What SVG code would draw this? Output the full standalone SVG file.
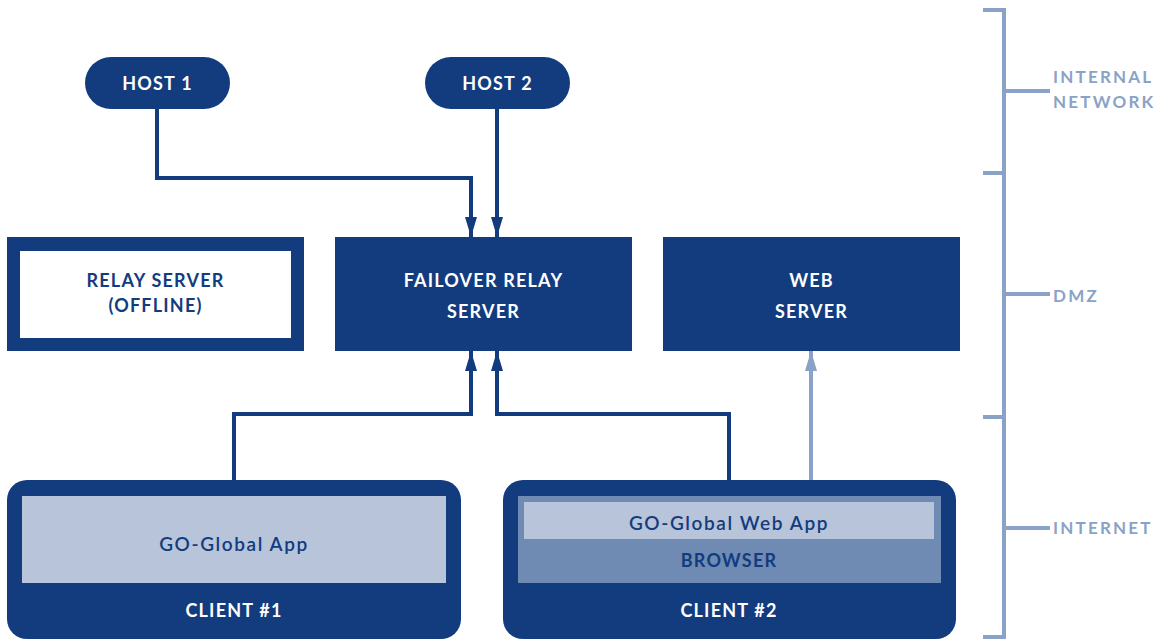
<svg xmlns="http://www.w3.org/2000/svg" width="1165" height="640" viewBox="0 0 1165 640">
<defs>
<style>
.navy{fill:#123c7e}
.t{font-family:Lato,"Noto Sans",sans-serif;font-weight:bold;font-size:18px;text-anchor:middle;dominant-baseline:central;letter-spacing:1.2px}
.w{fill:#ffffff}
.n{fill:#123c7e}
.app{font-family:Lato,"Noto Sans",sans-serif;font-weight:600;font-size:19px;text-anchor:middle;dominant-baseline:central;letter-spacing:1.6px;fill:#123c7e}
.zone{font-family:Lato,"Noto Sans",sans-serif;font-weight:bold;font-size:17px;dominant-baseline:central;letter-spacing:2.2px;fill:#8aa2c8}
.conn{fill:none;stroke:#123c7e;stroke-width:4}
.connl{fill:none;stroke:#8aa2c8;stroke-width:4}
.br{fill:none;stroke:#8aa2c8;stroke-width:4}
</style>
<marker id="ah" viewBox="0 0 20 12" refX="20" refY="6" markerWidth="20" markerHeight="12" markerUnits="userSpaceOnUse" orient="auto"><path d="M0,0 L20,6 L0,12 Z" fill="#123c7e"/></marker>
<marker id="ahl" viewBox="0 0 20 12" refX="20" refY="6" markerWidth="20" markerHeight="12" markerUnits="userSpaceOnUse" orient="auto"><path d="M0,0 L20,6 L0,12 Z" fill="#8aa2c8"/></marker>
</defs>
<rect width="1165" height="640" fill="#ffffff"/>

<g id="connectors">
<path class="conn" d="M157,109 V178 H471 V237" marker-end="url(#ah)"/>
<path class="conn" d="M497,109 V237" marker-end="url(#ah)"/>
<path class="conn" d="M234,480 V414 H471 V351" marker-end="url(#ah)"/>
<path class="conn" d="M729,480 V414 H497 V351" marker-end="url(#ah)"/>
<path class="connl" d="M811,497 V351" marker-end="url(#ahl)"/>
</g>

<g id="host1">
<rect x="85" y="57" width="145" height="52" rx="26" class="navy"/>
<text x="157.5" y="83" class="t w">HOST 1</text>
</g>
<g id="host2">
<rect x="425" y="57" width="145" height="52" rx="26" class="navy"/>
<text x="497.5" y="83" class="t w">HOST 2</text>
</g>

<g id="relay-offline">
<rect x="7" y="237" width="297" height="114" class="navy"/>
<rect x="20" y="251" width="271" height="87" fill="#ffffff"/>
<text x="155.5" y="280" class="t n">RELAY SERVER</text>
<text x="155.5" y="305" class="t n">(OFFLINE)</text>
</g>
<g id="failover">
<rect x="335" y="237" width="297" height="114" class="navy"/>
<text x="483.5" y="280" class="t w">FAILOVER RELAY</text>
<text x="483.5" y="311" class="t w">SERVER</text>
</g>
<g id="webserver">
<rect x="663" y="237" width="297" height="114" class="navy"/>
<text x="811.5" y="280" class="t w">WEB</text>
<text x="811.5" y="311" class="t w">SERVER</text>
</g>

<g id="client1">
<rect x="7" y="480" width="454" height="159" rx="20" class="navy"/>
<rect x="22" y="496" width="424" height="87" fill="#b7c4da"/>
<text x="234" y="543" class="app">GO-Global App</text>
<text x="234" y="610" class="t w">CLIENT #1</text>
</g>
<g id="client2">
<rect x="503" y="480" width="453" height="159" rx="20" class="navy"/>
<rect x="518" y="496" width="423" height="87" fill="#6f8ab3"/>
<rect x="524" y="502" width="410" height="37" fill="#b7c4da"/>
<text x="729" y="522" class="app">GO-Global Web App</text>
<text x="729" y="560" class="t n">BROWSER</text>
<text x="729" y="610" class="t w">CLIENT #2</text>
</g>

<g id="zones">
<path class="br" d="M983,10 H1004 V637 H983"/>
<path class="br" d="M983,173 H1004"/>
<path class="br" d="M983,417 H1004"/>
<path class="br" d="M1004,91 H1050"/>
<path class="br" d="M1004,294 H1050"/>
<path class="br" d="M1004,528 H1050"/>
<text x="1053" y="76" class="zone">INTERNAL</text>
<text x="1053" y="101" class="zone">NETWORK</text>
<text x="1053" y="295" class="zone">DMZ</text>
<text x="1053" y="527" class="zone">INTERNET</text>
</g>
</svg>
